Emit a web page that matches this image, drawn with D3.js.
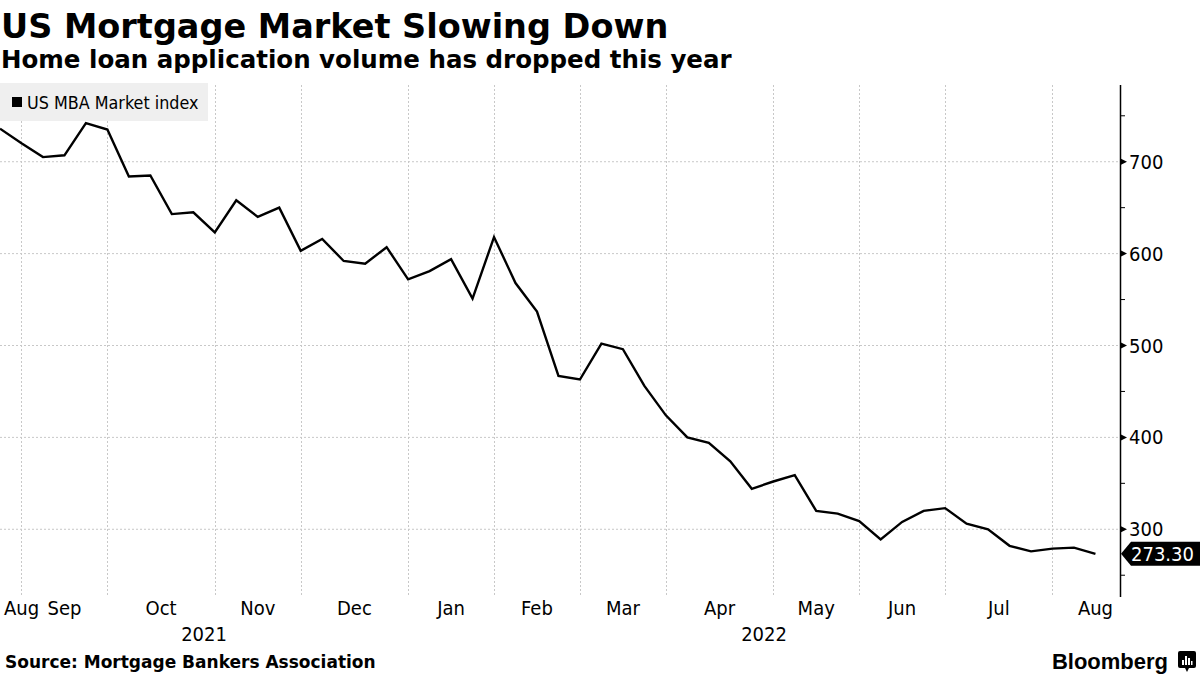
<!DOCTYPE html>
<html>
<head>
<meta charset="utf-8">
<script src="https://cdn.jsdelivr.net/npm/d3@7"></script>
<style>
  html, body { margin: 0; padding: 0; background: #fff; }
  svg { display: block; }
  text { font-family: "DejaVu Sans Condensed", "DejaVu Sans", sans-serif; fill: #000; }
  .bold { font-family: "DejaVu Sans", sans-serif; font-weight: bold; }
</style>
</head>
<body>
<svg id="chart" width="1200" height="675"></svg>
<script>
// ---- data ----
const title = "US Mortgage Market Slowing Down";
const subtitle = "Home loan application volume has dropped this year";
const seriesName = "US MBA Market index";
const source = "Source: Mortgage Bankers Association";
const lastLabel = "273.30";

const weekDates = [
  "2021-08-27","2021-09-03","2021-09-10","2021-09-17","2021-09-24",
  "2021-10-01","2021-10-08","2021-10-15","2021-10-22","2021-10-29",
  "2021-11-05","2021-11-12","2021-11-19","2021-11-26",
  "2021-12-03","2021-12-10","2021-12-17","2021-12-24","2021-12-31",
  "2022-01-07","2022-01-14","2022-01-21","2022-01-28",
  "2022-02-04","2022-02-11","2022-02-18","2022-02-25",
  "2022-03-04","2022-03-11","2022-03-18","2022-03-25",
  "2022-04-01","2022-04-08","2022-04-15","2022-04-22","2022-04-29",
  "2022-05-06","2022-05-13","2022-05-20","2022-05-27",
  "2022-06-03","2022-06-10","2022-06-17","2022-06-24",
  "2022-07-01","2022-07-08","2022-07-15","2022-07-22","2022-07-29",
  "2022-08-05","2022-08-12","2022-08-19"
];
const indexValues = [
  736, 720, 705, 707, 742,
  735, 684, 685, 643, 645,
  623, 658, 640, 650,
  603, 616, 592, 589, 607,
  572, 581, 594, 551,
  618, 568, 537, 467,
  463, 502, 496, 456,
  424, 400, 394, 374, 344,
  352, 359, 320, 317,
  309, 289, 308, 320,
  323, 306, 300, 282, 276,
  279, 280, 273.3
];
const monthLabels = ["2021-08","2021-09","2021-10","2021-11","2021-12","2022-01","2022-02","2022-03","2022-04","2022-05","2022-06","2022-07","2022-08"];
const yearLabels = ["2021","2022"];
const yTicks = [300, 400, 500, 600, 700];
const yMinorTicks = [250, 350, 450, 550, 650, 750];

// ---- setup ----
const parse = d3.timeParse("%Y-%m-%d");
const data = weekDates.map((d, i) => ({ date: parse(d), value: indexValues[i] }));

const svg = d3.select("#chart");
const plot = { left: 0, right: 1120, top: 85, bottom: 597 };

const x = d3.scaleTime()
  .domain([parse("2021-08-27"), parse("2022-08-27")])
  .range([plot.left, plot.right]);
const y = d3.scaleLinear()
  .domain([226.3, 783.5])
  .range([plot.bottom, plot.top]);

// ---- titles ----
svg.append("text").attr("class", "bold").attr("x", 1).attr("y", 38)
  .style("font-size", "33.5px").text(title);
svg.append("text").attr("class", "bold").attr("x", 1).attr("y", 68)
  .style("font-size", "24.5px").text(subtitle);

// ---- grid ----
const gridColor = "#c8c8c8";
const grid = svg.append("g");
grid.selectAll("line.h").data(yTicks).join("line")
  .attr("x1", plot.left).attr("x2", plot.right)
  .attr("y1", d => y(d)).attr("y2", d => y(d))
  .attr("stroke", gridColor).attr("stroke-width", 1).attr("stroke-dasharray", "2,2");

// first data point of each month -> vertical gridlines
const monthStarts = data.filter((d, i) => i > 0 && d.date.getMonth() !== data[i - 1].date.getMonth()).map(d => d.date);
grid.selectAll("line.v").data(monthStarts).join("line")
  .attr("x1", d => Math.round(x(d)) + 0.5).attr("x2", d => Math.round(x(d)) + 0.5)
  .attr("y1", plot.top).attr("y2", plot.bottom)
  .attr("stroke", gridColor).attr("stroke-width", 1).attr("stroke-dasharray", "2,2");

// ---- x labels ----
const fmtMonth = d3.timeFormat("%b");
const monthParse = d3.timeParse("%Y-%m");
const xl = svg.append("g");
monthLabels.forEach(m => {
  const start = monthParse(m);
  const a = d3.timeFriday.ceil(start);
  const b = d3.timeFriday.ceil(d3.timeMonth.offset(start, 1));
  const cx = (x(a) + x(b)) / 2;
  const t = xl.append("text").attr("y", 615).style("font-size", "20px").text(fmtMonth(start));
  if (cx < 25) { t.attr("x", 4).attr("text-anchor", "start"); }
  else { t.attr("x", cx).attr("text-anchor", "middle"); }
});
yearLabels.forEach(yr => {
  const a = Math.max(x.range()[0], x(d3.timeFriday.ceil(new Date(+yr, 0, 1))));
  const b = Math.min(x.range()[1], x(d3.timeFriday.ceil(new Date(+yr + 1, 0, 1))));
  xl.append("text").attr("x", (a + b) / 2).attr("y", 641)
    .attr("text-anchor", "middle").style("font-size", "20px").text(yr);
});

// ---- y axis (right) ----
const ya = svg.append("g");
ya.append("line").attr("x1", plot.right + 0.5).attr("x2", plot.right + 0.5)
  .attr("y1", plot.top).attr("y2", plot.bottom).attr("stroke", "#000").attr("stroke-width", 1.5);
ya.selectAll("path.maj").data(yTicks).join("path")
  .attr("d", d => `M${plot.right},${y(d) - 3.5}L${plot.right + 7},${y(d)}L${plot.right},${y(d) + 3.5}Z`)
  .attr("fill", "#000");
ya.selectAll("line.min").data(yMinorTicks).join("line")
  .attr("x1", plot.right).attr("x2", plot.right + 5)
  .attr("y1", d => y(d)).attr("y2", d => y(d))
  .attr("stroke", "#000").attr("stroke-width", 1);
ya.selectAll("text").data(yTicks).join("text")
  .attr("x", plot.right + 9).attr("y", d => y(d))
  .attr("dy", "0.35em").style("font-size", "20px").text(d => d);

// ---- line ----
const line = d3.line().x(d => x(d.date)).y(d => y(d.value));
svg.append("path").datum(data)
  .attr("d", line).attr("fill", "none")
  .attr("stroke", "#000").attr("stroke-width", 2.4).attr("stroke-linejoin", "miter");

// ---- last value tag ----
const last = data[data.length - 1];
const ty = y(last.value);
svg.append("path")
  .attr("d", `M${plot.right + 1},${ty}L${plot.right + 11},${ty - 12}L1200,${ty - 12}L1200,${ty + 12}L${plot.right + 11},${ty + 12}Z`)
  .attr("fill", "#000");
svg.append("text").attr("x", plot.right + 11).attr("y", ty).attr("dy", "0.36em")
  .style("font-size", "20px").style("fill", "#fff").text(lastLabel);

// ---- legend ----
const lg = svg.append("g");
lg.append("rect").attr("x", 0).attr("y", 83).attr("width", 208).attr("height", 38).attr("fill", "#efefef");
lg.append("rect").attr("x", 12).attr("y", 97).attr("width", 10).attr("height", 10).attr("fill", "#000");
lg.append("text").attr("x", 27).attr("y", 108.5).style("font-size", "17.8px").text(seriesName);

// ---- footer ----
svg.append("text").attr("class", "bold").attr("x", 5).attr("y", 668)
  .style("font-size", "17px").text(source);
svg.append("text").attr("x", 1168).attr("y", 669).attr("text-anchor", "end")
  .style("font-family", "'Liberation Sans', Arial, sans-serif")
  .style("font-size", "22px").style("font-weight", "bold").text("Bloomberg");
const ic = svg.append("g").attr("transform", "translate(1178,651)");
ic.append("rect").attr("width", 18).attr("height", 17).attr("rx", 2).attr("fill", "#000");
ic.append("path").attr("d", "M7,17L9,21L11,17Z").attr("fill", "#000");
[[4,9,2],[7,5,2],[10,7,2],[13,10,1.5]].forEach(([bx, by, bw]) => {
  ic.append("rect").attr("x", bx).attr("y", by).attr("width", bw).attr("height", 14 - by).attr("fill", "#fff");
});
</script>
</body>
</html>
